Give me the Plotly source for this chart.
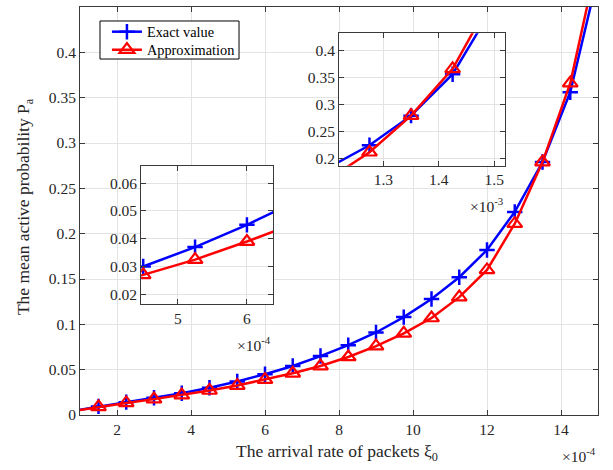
import plotly.graph_objects as go

# arrival rate of packets (units of 1e-4)
xi0 = [0.75, 1.5, 2.25, 3.0, 3.75, 4.5, 5.25, 6.0, 6.75, 7.5,
       8.25, 9.0, 9.75, 10.5, 11.25, 12.0, 12.75, 13.5, 14.25, 15.0]
exact = [0.004, 0.0095, 0.0142, 0.019, 0.024, 0.030, 0.037, 0.045, 0.054, 0.065,
         0.077, 0.091, 0.108, 0.128, 0.152, 0.182, 0.224, 0.279, 0.356, 0.485]
approx = [0.004, 0.009, 0.0133, 0.0175, 0.022, 0.027, 0.0325, 0.039, 0.046, 0.054,
          0.064, 0.076, 0.090, 0.107, 0.130, 0.160, 0.211, 0.279, 0.366, 0.505]

main_yticks = [0, 0.05, 0.1, 0.15, 0.2, 0.25, 0.3, 0.35, 0.4, 0.45]
main_yticklabels = ["0", "0.05", "0.1", "0.15", "0.2", "0.25", "0.3", "0.35", "0.4", "0.45"]
main_xticks = [2, 4, 6, 8, 10, 12, 14]
inset1_xticks = [5, 6]
inset1_yticks = [0.02, 0.03, 0.04, 0.05, 0.06]
inset2_xticks = [13, 14, 15]
inset2_xticklabels = ["1.3", "1.4", "1.5"]
inset2_yticks = [0.2, 0.25, 0.3, 0.35, 0.4]

FONT = "Liberation Serif"
BLUE = "#0000ff"
RED = "#ff0000"
AXC = "#262626"
LINEC = "#3a3a3a"
GRID = "#e3e3e3"

fig = go.Figure()

def add_pair(xa, ya, show):
    fig.add_trace(go.Scatter(
        x=xi0, y=exact, mode="lines+markers", name="Exact value",
        line=dict(color=BLUE, width=2.5),
        marker=dict(symbol="cross-thin-open", size=11, line=dict(color=BLUE, width=2.5)),
        xaxis=xa, yaxis=ya, showlegend=show, legend="legend"))
    fig.add_trace(go.Scatter(
        x=xi0, y=approx, mode="lines+markers", name="Approximation",
        line=dict(color=RED, width=2.5),
        marker=dict(symbol="triangle-up-open", size=13, line=dict(color=RED, width=2.2)),
        xaxis=xa, yaxis=ya, showlegend=show, legend="legend2"))

add_pair("x", "y", True)
add_pair("x2", "y2", False)
add_pair("x3", "y3", False)

axcommon = dict(showline=True, linecolor=LINEC, linewidth=1, mirror="ticks",
                ticks="inside", ticklen=5, tickcolor=LINEC, showgrid=True,
                gridcolor=GRID, gridwidth=1, zeroline=False,
                tickfont=dict(family=FONT, size=15.5, color=AXC))

legcommon = dict(xanchor="left", yanchor="middle", bgcolor="rgba(0,0,0,0)",
                 borderwidth=0, font=dict(family=FONT, size=14.3, color="#000000"))

fig.update_layout(
    width=613, height=470,
    margin=dict(l=80, r=15, t=7, b=55),
    paper_bgcolor="white", plot_bgcolor="white",
    font=dict(family=FONT, size=15, color=AXC),
    xaxis=dict(range=[1, 15], tickvals=main_xticks, domain=[0, 1], **axcommon),
    yaxis=dict(range=[0, 0.45], tickvals=main_yticks, ticktext=main_yticklabels,
               domain=[0, 1], **axcommon),
    xaxis2=dict(range=[4.47, 6.38], tickvals=inset1_xticks, domain=[0.118, 0.373],
                anchor="y2", **axcommon),
    yaxis2=dict(range=[0.0165, 0.0663], tickvals=inset1_yticks, domain=[0.272, 0.611],
                anchor="x2", **axcommon),
    xaxis3=dict(range=[12.2, 15.2], tickvals=inset2_xticks, ticktext=inset2_xticklabels,
                domain=[0.5, 0.821], anchor="y3", **axcommon),
    yaxis3=dict(range=[0.186, 0.432], tickvals=inset2_yticks, domain=[0.611, 0.9355],
                anchor="x3", **axcommon),
    legend=dict(x=0.052, y=0.939, **legcommon),
    legend2=dict(x=0.052, y=0.895, **legcommon),
    showlegend=True,
)

# legend frame
fig.add_shape(type="rect", xref="paper", yref="paper",
              x0=0.0386, x1=0.307, y0=0.8725, y1=0.9657,
              line=dict(color="#000000", width=1), fillcolor="white", layer="above")

def note(text, x, y, size=15.5, **kw):
    fig.add_annotation(text=text, x=x, y=y, xref="paper", yref="paper",
                       showarrow=False, font=dict(family=FONT, size=size, color=AXC), **kw)

# axis titles
note("The arrival rate of packets ξ<sub>0</sub>", 0.497, -0.093, size=17.5,
     xanchor="center", yanchor="middle")
note("The mean active probability P<sub>a</sub>", -0.107, 0.511, size=17.5,
     xanchor="center", yanchor="middle", textangle=-90)

# exponent labels
note("×10<sup>-4</sup>", 1.0, -0.098, xanchor="right", yanchor="middle")
note("×10<sup>-4</sup>", 0.373, 0.174, xanchor="right", yanchor="middle")
note("×10<sup>-3</sup>", 0.821, 0.515, xanchor="right", yanchor="middle")

fig.write_html("out.html")
